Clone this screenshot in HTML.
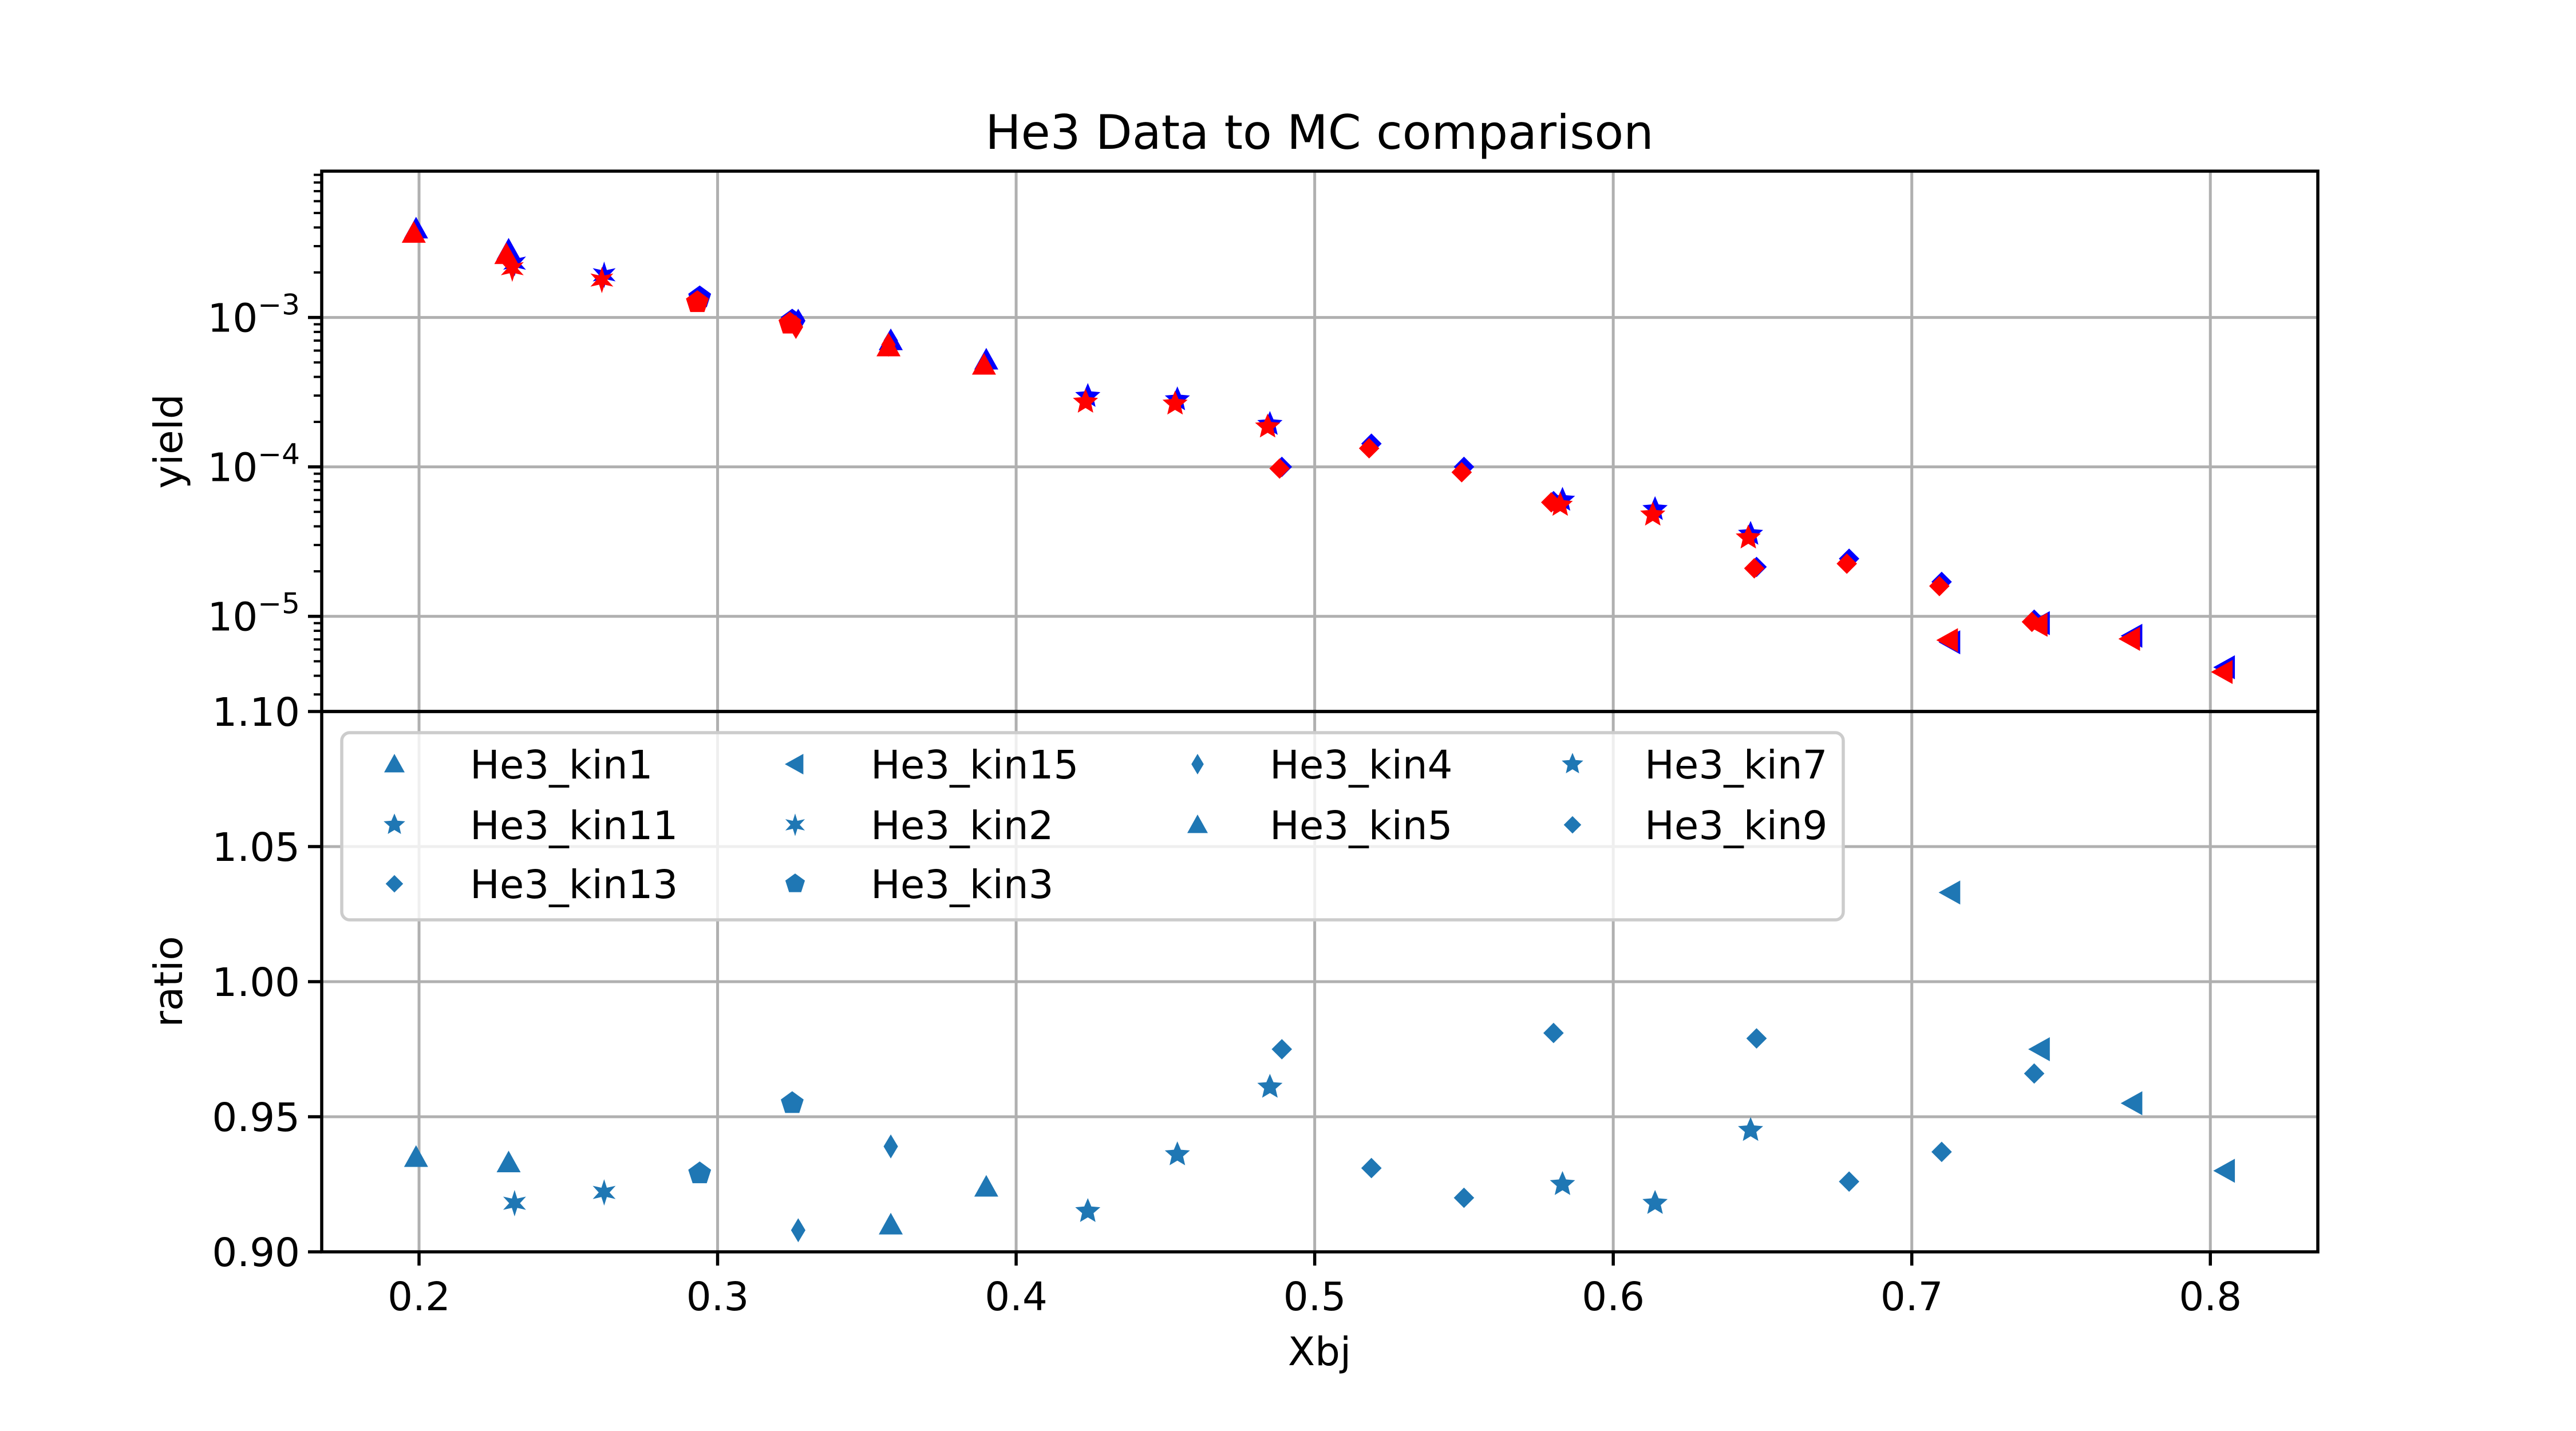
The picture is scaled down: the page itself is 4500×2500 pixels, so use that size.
<!DOCTYPE html>
<html><head><meta charset="utf-8">
<style>
html,body{margin:0;padding:0;background:#fff;}
svg{display:block;font-family:"DejaVu Sans","Liberation Sans",sans-serif;}
</style></head>
<body>
<svg id="chart" width="4500" height="2500" viewBox="0 0 4500 2500" xmlns="http://www.w3.org/2000/svg">
<rect width="4500" height="2500" fill="#fff"/>
<text x="2305" y="260" font-size="83" text-anchor="middle">He3 Data to MC comparison</text>
<g id="gridTop"></g><g id="gridBot"></g>
<g id="marksTop"></g><g id="marksBot"></g>
<g id="axes"></g>
<g id="legend"></g>
<text transform="translate(318,771) rotate(-90)" font-size="69" text-anchor="middle">yield</text>
<text transform="translate(318,1715) rotate(-90)" font-size="69" text-anchor="middle">ratio</text>
<text x="2305" y="2385" font-size="69" text-anchor="middle">Xbj</text>
</svg>
<script>
// ---- data ----
const seriesNames = ["He3_kin1","He3_kin11","He3_kin13","He3_kin15","He3_kin2","He3_kin3","He3_kin4","He3_kin5","He3_kin7","He3_kin9"];
const seriesMarkers = ["tri","star","diamond","left","aster","pent","thind","tri","star","diamond"];
const xKin1 = [0.199,0.230];
const xKin11 = [0.583,0.614,0.646];
const xKin13 = [0.648,0.679,0.710,0.741];
const xKin15 = [0.713,0.743,0.774,0.805];
const xKin2 = [0.232,0.262];
const xKin3 = [0.294,0.325];
const xKin4 = [0.327,0.358];
const xKin5 = [0.358,0.390];
const xKin7 = [0.424,0.454,0.485];
const xKin9 = [0.489,0.519,0.550,0.580];
const mcKin1 = [3.92e-3,2.83e-3];
const mcKin11 = [6.0e-5,5.2e-5,3.55e-5];
const mcKin13 = [2.14e-5,2.43e-5,1.70e-5,9.5e-6];
const mcKin15 = [6.7e-6,9.0e-6,7.4e-6,4.56e-6];
const mcKin2 = [2.31e-3,1.93e-3];
const mcKin3 = [1.36e-3,9.5e-4];
const mcKin4 = [9.5e-4,7.0e-4];
const mcKin5 = [7.0e-4,5.2e-4];
const mcKin7 = [2.97e-4,2.82e-4,1.93e-4];
const mcKin9 = [1.0e-4,1.43e-4,1.0e-4,5.9e-5];
const ratioKin1 = [0.935,0.933];
const ratioKin11 = [0.925,0.918,0.945];
const ratioKin13 = [0.979,0.926,0.937,0.966];
const ratioKin15 = [1.033,0.975,0.955,0.930];
const ratioKin2 = [0.918,0.922];
const ratioKin3 = [0.929,0.955];
const ratioKin4 = [0.908,0.939];
const ratioKin5 = [0.910,0.924];
const ratioKin7 = [0.915,0.936,0.961];
const ratioKin9 = [0.975,0.931,0.920,0.981];
const xTicks = [0.2,0.3,0.4,0.5,0.6,0.7,0.8];
const xTickLabels = ["0.2","0.3","0.4","0.5","0.6","0.7","0.8"];
const yTopTicks = [-3,-4,-5];
const yBotTicks = [0.90,0.95,1.00,1.05,1.10];
const yBotTickLabels = ["0.90","0.95","1.00","1.05","1.10"];

const xs = [xKin1,xKin11,xKin13,xKin15,xKin2,xKin3,xKin4,xKin5,xKin7,xKin9];
const mcs = [mcKin1,mcKin11,mcKin13,mcKin15,mcKin2,mcKin3,mcKin4,mcKin5,mcKin7,mcKin9];
const ratios = [ratioKin1,ratioKin11,ratioKin13,ratioKin15,ratioKin2,ratioKin3,ratioKin4,ratioKin5,ratioKin7,ratioKin9];

// ---- geometry ----
const L=562,R=4049,T=299,M=1243,B=2187;
const xMin=0.1674,xMax=0.836;
const X=v=>L+(v-xMin)/(xMax-xMin)*(R-L);
const lgTop=-2.021,lgBot=-5.637;
const YT=v=>T+(lgTop-Math.log10(v))/(lgTop-lgBot)*(M-T);
const YB=v=>B-(v-0.9)/0.2*(B-M);
const NS="http://www.w3.org/2000/svg";
function mk(tag,attrs,parent){const e=document.createElementNS(NS,tag);for(const k in attrs)e.setAttribute(k,attrs[k]);parent.appendChild(e);return e;}

function markerPath(type,cx,cy,s){
  const r=s/2;
  const poly=pts=>"M"+pts.map(p=>(cx+p[0]).toFixed(1)+","+(cy+p[1]).toFixed(1)).join("L")+"Z";
  if(type==="tri") return poly([[0,-r],[r,r*0.8],[-r,r*0.8]]);
  if(type==="left") return poly([[-r,0],[r*0.8,-r],[r*0.8,r]]);
  if(type==="diamond"){const d=r*0.85;return poly([[0,-d],[d,0],[0,d],[-d,0]]);}
  if(type==="thind") return poly([[0,-r],[r*0.6,0],[0,r],[-r*0.6,0]]);
  if(type==="pent"){const p=[];for(let i=0;i<5;i++){const a=-Math.PI/2+i*2*Math.PI/5;p.push([r*Math.cos(a),r*Math.sin(a)]);}return poly(p);}
  if(type==="star"){const p=[];for(let i=0;i<10;i++){const a=-Math.PI/2+i*Math.PI/5;const rr=i%2?r*0.5:r*1.1;p.push([rr*Math.cos(a),rr*Math.sin(a)]);}return poly(p);}
  if(type==="aster"){const p=[];for(let i=0;i<12;i++){const a=-Math.PI/2+i*Math.PI/6;const rr=i%2?r*0.45:r*1.1;p.push([rr*Math.cos(a),rr*Math.sin(a)]);}return poly(p);}
}

// ---- grids ----
const gT=document.getElementById("gridTop"),gB=document.getElementById("gridBot");
xTicks.forEach(t=>{
  const l1=mk("line",{x1:X(t),x2:X(t),y1:T,y2:M,stroke:"#b0b0b0","stroke-width":5},gT);
  
  
  const l2=mk("line",{x1:X(t),x2:X(t),y1:M,y2:B,stroke:"#b0b0b0","stroke-width":5},gB);
  
  
});
yTopTicks.forEach(t=>{
  const y=YT(Math.pow(10,t));
  const l=mk("line",{x1:L,x2:R,y1:y,y2:y,stroke:"#b0b0b0","stroke-width":5},gT);
  
  
});
yBotTicks.forEach(t=>{
  const l=mk("line",{x1:L,x2:R,y1:YB(t),y2:YB(t),stroke:"#b0b0b0","stroke-width":5},gB);
  
  
});

// ---- marks ----
const mT=document.getElementById("marksTop"),mB=document.getElementById("marksBot");
["#0000ff","#ff0000"].forEach((col,ci)=>{
  xs.forEach((arr,si)=>{
    arr.forEach((xv,i)=>{
      const v=ci===0?mcs[si][i]:mcs[si][i]*ratios[si][i];
      const p=mk("path",{d:markerPath(seriesMarkers[si],X(xv)-(ci?4:0),YT(v),42),fill:col},mT);
      
      
    });
  });
});
xs.forEach((arr,si)=>{
  arr.forEach((xv,i)=>{
    const p=mk("path",{d:markerPath(seriesMarkers[si],X(xv),YB(ratios[si][i]),42),fill:"#1f77b4"},mB);
    
    
  });
});

// ---- axes ----
const ax=document.getElementById("axes");
const frameT=mk("rect",{x:L,y:T,width:R-L,height:M-T,fill:"none",stroke:"#000","stroke-width":5.5},ax);


const frameB=mk("rect",{x:L,y:M,width:R-L,height:B-M,fill:"none",stroke:"#000","stroke-width":5.5},ax);


xTicks.forEach((t,i)=>{
  mk("line",{x1:X(t),x2:X(t),y1:B,y2:B+24,stroke:"#000","stroke-width":5.5},ax);
  const tx=mk("text",{x:X(t),y:2289,"font-size":69,"text-anchor":"middle"},ax);
  tx.textContent=xTickLabels[i];
  
  
});
yBotTicks.forEach((t,i)=>{
  mk("line",{x1:L-24,x2:L,y1:YB(t),y2:YB(t),stroke:"#000","stroke-width":5.5},ax);
  const tx=mk("text",{x:L-38,y:YB(t)+25,"font-size":69,"text-anchor":"end"},ax);
  tx.textContent=yBotTickLabels[i];
  
  
});
yTopTicks.forEach(t=>{
  const y=YT(Math.pow(10,t));
  mk("line",{x1:L-24,x2:L,y1:y,y2:y,stroke:"#000","stroke-width":5.5},ax);
  const tx=mk("text",{x:L-38,y:y+25,"font-size":69,"text-anchor":"end"},ax);
  
  
  const a=mk("tspan",{},tx);a.textContent="10";
  const b=mk("tspan",{dy:-30,"font-size":50},tx);b.textContent="\u2212"+Math.abs(t);
});
for(let d=-6;d<=-2;d++){for(let m=2;m<=9;m++){
  const v=m*Math.pow(10,d);const lg=Math.log10(v);
  if(lg<lgTop&&lg>lgBot){const y=YT(v);mk("line",{x1:L-14,x2:L,y1:y,y2:y,stroke:"#000","stroke-width":4},ax);}
}}

// ---- legend ----
const lg=document.getElementById("legend");
const box=mk("rect",{x:597,y:1280,width:2623,height:327,rx:14,fill:"#fff","fill-opacity":0.8,stroke:"#cccccc","stroke-width":5.5},lg);


const colMX=[689,1389,2092,2747],colTX=[821,1521,2218,2873],rowY=[1335,1441,1544];
const legendCol=[0,0,0,1,1,1,2,2,3,3],legendRow=[0,1,2,0,1,2,0,1,0,1];
seriesNames.forEach((n,i)=>{
  const c=legendCol[i],r=legendRow[i];
  const g=mk("g",{},lg);
  
  
  mk("path",{d:markerPath(seriesMarkers[i],colMX[c],rowY[r],36),fill:"#1f77b4"},g);
  const t=mk("text",{x:colTX[c],y:rowY[r]+25,"font-size":69},g);
  t.textContent=n;
});
</script>
</body></html>
